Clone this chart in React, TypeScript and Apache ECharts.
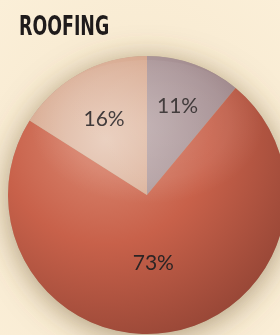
import React, { useEffect, useRef } from "react";
import * as echarts from "echarts";

const categories = ["Gray", "Red", "Peach"];
const values = [11, 73, 16];
const labels = ["11%", "73%", "16%"];
const titleText = "ROOFING";

const palettes = [
  ["#c4b3b4", "#a89295", "#85696d"],
  ["#dc8a73", "#c8614a", "#8f4233"],
  ["#e8cbb9", "#d6a68c", "#b87e66"],
];
const labelOffsets = [
  [6, -22],
  [-5, -5],
  [-8, -14],
];

export default function App() {
  const ref = useRef<HTMLDivElement>(null);
  useEffect(() => {
    if (!ref.current) return;
    const chart = echarts.init(ref.current, undefined, { renderer: "svg" });
    const cx = 147, cy = 195, R = 139;
    const grad = (p: string[]) =>
      new echarts.graphic.RadialGradient(105, 140, 230, [
        { offset: 0, color: p[0] },
        { offset: 0.45, color: p[1] },
        { offset: 1, color: p[2] },
      ], true);
    chart.setOption({
      animation: false,
      backgroundColor: new echarts.graphic.RadialGradient(0.5, 0.55, 0.75, [
        { offset: 0, color: "#f5e6cb" },
        { offset: 1, color: "#fbefd8" },
      ]),
      series: [
        {
          type: "pie",
          silent: true,
          center: [cx, cy],
          radius: R,
          z: 1,
          label: { show: false },
          itemStyle: {
            color: "#b9a58a",
            shadowBlur: 30,
            shadowColor: "rgba(110,85,45,0.55)",
            shadowOffsetY: 4,
          },
          data: [{ value: 1, name: "bg" }],
        },
        {
          type: "pie",
          center: [cx, cy],
          radius: R,
          startAngle: 90,
          clockwise: true,
          z: 2,
          labelLine: { show: false },
          data: categories.map((c, i) => ({
            name: c,
            value: values[i],
            itemStyle: { color: grad(palettes[i]) },
            label: {
              show: true,
              position: "inside",
              formatter: labels[i],
              offset: labelOffsets[i],
              fontSize: 21,
              color: "#2b2424",
              fontFamily: "Lato, 'Open Sans', sans-serif",
            },
          })),
        },
      ],
      graphic: [
        {
          type: "text",
          left: 19,
          top: 13,
          scaleX: 0.67,
          z: 20,
          style: {
            text: titleText,
            fontSize: 26,
            fontWeight: "bold",
            fill: "#1f1b1b",
            fontFamily: "'DejaVu Sans', sans-serif",
          },
        },
        {
          type: "ellipse",
          silent: true,
          z: 10,
          shape: { cx: cx, cy: cy - 55, rx: R - 22, ry: 80 },
          style: {
            fill: new echarts.graphic.RadialGradient(0.5, 0.4, 0.5, [
              { offset: 0, color: "rgba(255,255,255,0.14)" },
              { offset: 0.7, color: "rgba(255,255,255,0.08)" },
              { offset: 1, color: "rgba(255,255,255,0)" },
            ]),
          },
        },
      ],
    });
    return () => chart.dispose();
  }, []);
  return (
    <div
      ref={ref}
      style={{ position: "fixed", left: 0, top: 0, width: 280, height: 335 }}
    />
  );
}
